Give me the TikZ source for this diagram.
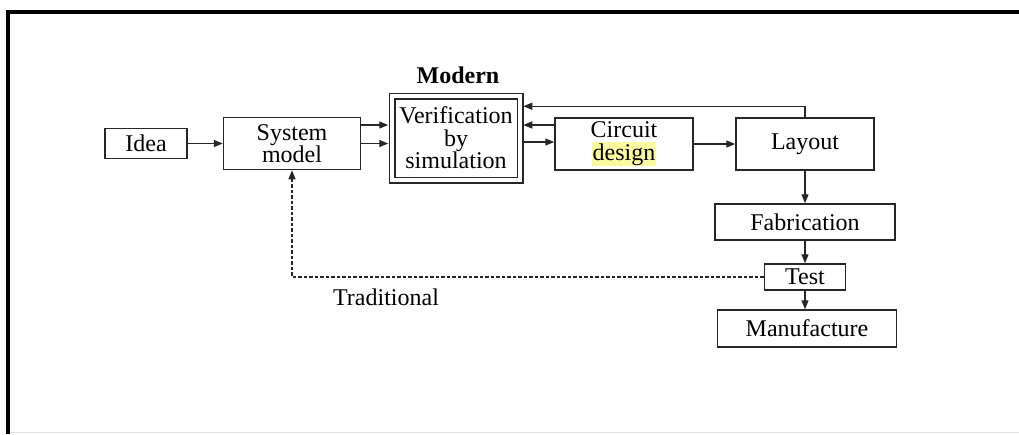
\documentclass[tikz,border=0pt]{standalone}
\usepackage{fontspec}
\setmainfont{Liberation Serif}
\usetikzlibrary{positioning,arrows.meta,calc}
\definecolor{hilite}{RGB}{252,250,160}

\begin{document}
\begin{tikzpicture}[
  x=1pt, y=-1pt,
  >={Triangle[length=9pt,width=7pt]},
  font=\fontsize{24}{22.5}\selectfont,
  blk/.style={draw=black!85, line width=1.5pt, align=center, inner sep=0pt},
  flow/.style={->, line width=1.3pt, draw=black!85},
  trad/.style={->, line width=1.3pt, draw=black!85, dash pattern=on 3.5pt off 2pt},
  lbl/.style={inner sep=0pt},
]
\useasboundingbox (0,0) rectangle (1019,434);

% ---------------- frame ----------------
\draw[line width=4pt] (1019,12) -- (8,12) -- (8,434);
\draw[black!12, line width=1pt] (10,432) -- (1019,432);

% ---------------- design chain ----------------
\node[blk, minimum width=82pt, minimum height=30pt] (idea) at (146,143.5) {Idea};
\node[blk, minimum width=137pt, minimum height=52pt] (sys) at (292,143.5) {System\\ model};
\node[blk, double, double distance=4pt, minimum width=128pt, minimum height=84pt]
  (vrf) at (456,138) {Verification\\ by\\ simulation};
\node[lbl, font=\fontsize{24}{22.5}\selectfont\bfseries] (mod) at (458,75) {Modern};
\node[blk, minimum width=138pt, minimum height=52pt] (cir) at (624,144)
  {Circuit\\ {\setlength{\fboxsep}{1pt}\colorbox{hilite}{design}}};
\node[blk, minimum width=138pt, minimum height=52pt] (lay) at (805,144) {Layout};

% ---------------- production chain ----------------
\node[blk, minimum width=180pt, minimum height=36pt] (fab) at (805,222) {Fabrication};
\node[blk, minimum width=81pt, minimum height=26pt] (tst) at (805,277) {Test};
\node[blk, minimum width=179pt, minimum height=37pt] (man) at (807,328.5) {Manufacture};

% ---------------- forward flow ----------------
\draw[flow] (idea.east) -- (sys.west);
\draw[flow, shorten >=3pt] ($(sys.east)+(0,-18.5)$) -- ($(vrf.west)+(0,-13)$);
\draw[flow, shorten >=3pt] (sys.east) -- (sys.east -| vrf.west);
\draw[flow, shorten >=2.5pt] ($(cir.west)+(0,-19)$) -- ($(vrf.east)+(0,-13)$);
\draw[flow, shorten <=2.5pt] ($(vrf.east)+(0,4)$) -- ($(cir.west)+(0,-2)$);
\draw[flow] (cir.east) -- (lay.west);
\draw[flow, shorten >=2.5pt] (lay.north) -- ++(0,-11) coordinate (top) -- (top -| vrf.east);

\draw[flow] (lay.south) -- (fab.north);
\draw[flow] (fab.south) -- (tst.north);
\draw[flow] (tst.south) -- (tst.south |- man.north);

% ---------------- traditional loop ----------------
\draw[trad] (tst.west) -- (tst.west -| sys.south) -- (sys.south);
\node[lbl] (tradlbl) at (386,297) {Traditional};

\end{tikzpicture}
\end{document}
